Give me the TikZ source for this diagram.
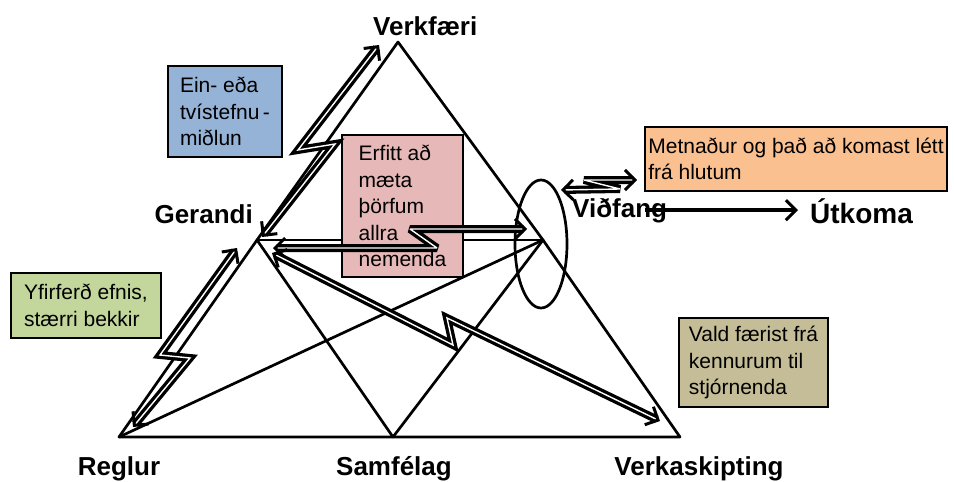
\documentclass[tikz,border=0pt]{standalone}
\usepackage{fontspec}
\setmainfont{Liberation Sans}
\usetikzlibrary{arrows.meta}

\definecolor{noteblue}{HTML}{95B3D7}
\definecolor{notepink}{HTML}{E6B9B8}
\definecolor{noteorange}{HTML}{FAC090}
\definecolor{notegreen}{HTML}{C3D69B}
\definecolor{notetan}{HTML}{C4BD97}

\tikzset{
  zbarb/.tip={Straight Barb[length=10pt, width=20pt, line width=3pt]},
  tri/.style={line width=2.7pt, line cap=round, line join=round},
  lbl/.style={font=\fontsize{26}{30}\selectfont\bfseries, inner sep=0pt},
  note/.style={draw=black, line width=2pt, align=left, inner sep=0pt,
               font=\fontsize{21}{26.6}\selectfont},
  bolt/.style={line width=3.3pt, double=white, double distance=1.4pt,
               line join=miter, miter limit=3, zbarb-zbarb},
  outarrow/.style={line width=4.5pt, -zbarb},
}

\begin{document}
\begin{tikzpicture}[x=1pt, y=-1pt]
\useasboundingbox (0,0) rectangle (954,482);

% corners of the activity system
\coordinate (vt) at (398,42);   % tools
\coordinate (vg) at (257,240);  % subject
\coordinate (vv) at (543,240);  % object
\coordinate (vr) at (119,437);  % rules
\coordinate (vs) at (393,437);  % community
\coordinate (vk) at (680,437);  % division of labour

% outer triangle and inner links
\draw[tri] (vt) -- (vg) -- (vr) -- (vs) -- (vk) -- (vv) -- cycle;
\draw[tri] (vg) -- (vv);
\draw[tri] (vg) -- (vs) -- (vv);
\draw[tri] (vv) -- (vr);

% object ring
\draw[line width=2.7pt] (541,244) ellipse [x radius=26, y radius=64];

% notes
\node[note, fill=noteblue, minimum width=114pt, minimum height=91pt]
  (nBlue) at (225,111.5) {Ein- eða\\tvístefnu\,-\\miðlun};
\node[note, fill=notepink, minimum width=121pt, minimum height=142pt]
  (nPink) at (402.5,206) {Erfitt að\\mæta\\þörfum\\allra\\nemenda};
\node[note, fill=noteorange, minimum width=302pt, minimum height=64pt]
  (nOrange) at (796,159) {Metnaður og það að komast létt\\frá hlutum};
\node[note, fill=notegreen, minimum width=150pt, minimum height=65pt]
  (nGreen) at (86,305.5) {Yfirferð efnis,\\stærri bekkir};
\node[note, fill=notetan, minimum width=149pt, minimum height=89pt]
  (nTan) at (753.5,362.5) {Vald færist frá\\kennurum til\\stjórnenda};

% corner labels
\node[lbl, anchor=base west] (lVerk) at (373,35) {Verkfæri};
\node[lbl, anchor=base east] (lGer) at (253,223) {Gerandi};
\node[lbl, anchor=base west] (lVid) at (572,217) {Viðfang};
\node[lbl, anchor=base west, font=\fontsize{28}{32}\selectfont\bfseries]
  (lUt) at (810,223) {Útkoma};
\node[lbl, anchor=base] (lReg) at (119,475) {Reglur};
\node[lbl, anchor=base] (lSam) at (394,475) {Samfélag};
\node[lbl, anchor=base] (lVsk) at (699,475) {Verkaskipting};

% tension arrows (lightning)
\coordinate (gT) at (262,237);
\coordinate (tG) at (379,45);
\draw[bolt] (gT) -- (335,144) -- (298,150) -- (tG);

\coordinate (rG) at (133,427);
\coordinate (gR) at (237,248);
\draw[bolt] (rG) -- (190,358) -- (160,355) -- (gR);

\coordinate (vG) at (527,229);
\coordinate (gV) at (273,248);
\draw[bolt] (vG) -- (410,229) -- (437,248) -- (gV);

\coordinate (gK) at (272,253);
\coordinate (kG) at (660,421);
\draw[bolt] (gK) -- (453,345) -- (447,318) -- (kG);

\coordinate (vM) at (561,190);
\coordinate (mV) at (637,180);
\draw[bolt] (vM) -- (620,189) -- (584,180) -- (mV);

% outcome
\draw[outarrow] ([xshift=-22pt]lVid.east) -- ([xshift=-12pt]lVid.east -| lUt.west);
\end{tikzpicture}
\end{document}
